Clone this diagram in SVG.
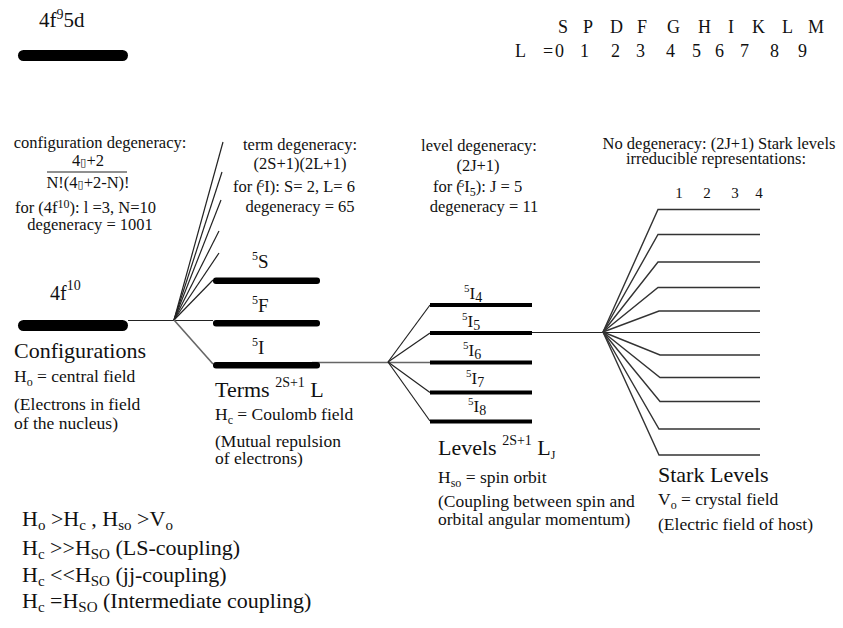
<svg xmlns="http://www.w3.org/2000/svg" width="843" height="628" viewBox="0 0 843 628">
  <style>
    .t { font-family: "Liberation Serif", "Times New Roman", serif; fill: #111; }
    .s16 { font-size: 16.5px; }
    .s17 { font-size: 17.5px; }
    .s19 { font-size: 19px; }
    .s21 { font-size: 22px; }
    .mid { text-anchor: middle; }
    .bar { fill: #000; }
    .ln { stroke: #222; stroke-width: 1.2; fill: none; }
    .lg { stroke: #666; stroke-width: 1.6; fill: none; }
    .st { stroke: #333; stroke-width: 1.4; fill: none; }
  </style>

  <!-- upper configuration 4f9 5d -->
  <g id="config-4f95d">
    <text class="t" font-size="21" x="39" y="27">4f<tspan font-size="14" dy="-8">9</tspan><tspan dy="8">5d</tspan></text>
    <rect class="bar" x="18" y="50" width="110" height="11" rx="5.5"/>
  </g>

  <!-- spectroscopic letter table -->
  <g id="letter-table" class="t" font-size="18">
    <text y="33"><tspan x="558">S</tspan><tspan x="583">P</tspan><tspan x="610">D</tspan><tspan x="637">F</tspan><tspan x="667">G</tspan><tspan x="698">H</tspan><tspan x="728">I</tspan><tspan x="752">K</tspan><tspan x="782">L</tspan><tspan x="808">M</tspan></text>
    <text y="57"><tspan x="515">L</tspan><tspan x="543">=</tspan><tspan x="555">0</tspan><tspan x="580">1</tspan><tspan x="611">2</tspan><tspan x="636">3</tspan><tspan x="666">4</tspan><tspan x="692">5</tspan><tspan x="715">6</tspan><tspan x="740">7</tspan><tspan x="770">8</tspan><tspan x="798">9</tspan></text>
  </g>

  <!-- degeneracy annotations -->
  <g id="config-degeneracy" class="t s16">
    <text class="mid" x="100" y="148">configuration degeneracy:</text>
    <text class="mid" x="88" y="166">4<tspan font-family="DejaVu Sans" font-size="11">▯</tspan>+2</text>
    <line x1="47" y1="172" x2="127" y2="172" stroke="#222" stroke-width="1.2"/>
    <text class="mid" x="88" y="188">N!(4<tspan font-family="DejaVu Sans" font-size="11">▯</tspan>+2-N)!</text>
    <text x="15" y="213">for (4f<tspan font-size="12" dy="-5">10</tspan><tspan dy="5">): l  =3, N=10</tspan></text>
    <text class="mid" x="90" y="230">degeneracy = 1001</text>
  </g>

  <g id="term-degeneracy" class="t s16">
    <text class="mid" x="300" y="150">term degeneracy:</text>
    <text class="mid" x="300" y="169">(2S+1)(2L+1)</text>
    <text x="233" y="192">for (<tspan font-size="11" dy="-5" dx="-3">5</tspan><tspan dy="5">I): S= 2, L= 6</tspan></text>
    <text class="mid" x="300" y="212">degeneracy = 65</text>
  </g>

  <g id="level-degeneracy" class="t s16">
    <text class="mid" x="479" y="151">level degeneracy:</text>
    <text class="mid" x="478" y="171">(2J+1)</text>
    <text x="433" y="192">for (<tspan font-size="11" dy="-5" dx="-3">5</tspan><tspan dy="5">I</tspan><tspan font-size="12" dy="4">5</tspan><tspan dy="-4">): J = 5</tspan></text>
    <text class="mid" x="484" y="212">degeneracy = 11</text>
  </g>

  <g id="stark-degeneracy" class="t s16">
    <text class="mid" x="719" y="149">No degeneracy: (2J+1) Stark levels</text>
    <text class="mid" x="716" y="164">irreducible representations:</text>
    <text class="mid" font-size="15" y="198"><tspan x="679">1</tspan><tspan x="707">2</tspan><tspan x="735">3</tspan><tspan x="759">4</tspan></text>
  </g>

  <!-- connectors: splitting fans and links between stages -->
  <g id="connectors">
    <line class="ln" x1="128" y1="320.5" x2="213" y2="320.5"/>
    <line class="ln" x1="174" y1="320" x2="223" y2="142"/>
    <line class="ln" x1="174" y1="320" x2="222" y2="172"/>
    <line class="ln" x1="174" y1="320" x2="221" y2="200"/>
    <line class="ln" x1="174" y1="320" x2="219" y2="231"/>
    <line class="ln" x1="174" y1="320" x2="219" y2="253"/>
    <line class="ln" x1="174" y1="320" x2="213" y2="280"/>
    <line class="lg" x1="174" y1="320" x2="213" y2="364"/>

    <line class="lg" x1="312" y1="362.5" x2="430" y2="362.5"/>
    <line class="ln" x1="388" y1="362" x2="430" y2="305"/>
    <line class="ln" x1="388" y1="362" x2="430" y2="333"/>
    <line class="ln" x1="388" y1="362" x2="430" y2="392.5"/>
    <line class="ln" x1="388" y1="362" x2="430" y2="421"/>

    <line class="ln" x1="531" y1="332.5" x2="760" y2="332.5"/>
    <polyline class="st" points="603,332 658,209.5 760,209.5"/>
    <polyline class="st" points="603,332 658,234.5 760,234.5"/>
    <polyline class="st" points="603,332 658,262 760,262"/>
    <polyline class="st" points="603,332 658,287.5 760,287.5"/>
    <polyline class="st" points="603,332 659,311 760,311"/>
    <polyline class="st" points="603,332 660,355 760,355"/>
    <polyline class="st" points="603,332 660,377.5 760,377.5"/>
    <polyline class="st" points="603,332 660,401.5 760,401.5"/>
    <polyline class="st" points="603,332 659,429 760,429"/>
    <polyline class="st" points="603,332 659,455 760,455"/>
  </g>

  <!-- 4f10 configuration -->
  <g id="configurations">
    <text class="t" font-size="20" x="50" y="300">4f<tspan font-size="14" dy="-10">10</tspan></text>
    <rect class="bar" x="18" y="320" width="110" height="11" rx="5.5"/>
    <text class="t s21" x="14" y="358">Configurations</text>
    <text class="t s17" x="14" y="382">H<tspan font-size="12" dy="4">o</tspan><tspan dy="-4"> = central field</tspan></text>
    <text class="t s17" x="14" y="410">(Electrons in field</text>
    <text class="t s17" x="14" y="429">of the nucleus)</text>
  </g>

  <!-- LS terms -->
  <g id="terms">
    <rect class="bar" x="213" y="277.5" width="107" height="6.5" rx="3"/>
    <rect class="bar" x="213" y="320" width="107" height="6.5" rx="3"/>
    <rect class="bar" x="213" y="362" width="107" height="6.5" rx="3"/>
    <text class="t s19" x="252" y="268"><tspan font-size="12" dy="-8">5</tspan><tspan dy="8">S</tspan></text>
    <text class="t s19" x="252" y="312"><tspan font-size="12" dy="-8">5</tspan><tspan dy="8">F</tspan></text>
    <text class="t s19" x="252" y="354"><tspan font-size="12" dy="-8">5</tspan><tspan dy="8">I</tspan></text>
    <text class="t s21" x="215" y="397">Terms <tspan font-size="14" dy="-10">2S+1</tspan><tspan dy="10"> L</tspan></text>
    <text class="t s17" x="215" y="420">H<tspan font-size="12" dy="4">c</tspan><tspan dy="-4"> = Coulomb field</tspan></text>
    <text class="t s17" x="215" y="447">(Mutual repulsion</text>
    <text class="t s17" x="215" y="464">of electrons)</text>
  </g>

  <!-- J levels -->
  <g id="levels">
    <rect class="bar" x="430" y="303" width="102" height="4"/>
    <rect class="bar" x="430" y="331" width="102" height="4"/>
    <rect class="bar" x="430" y="360.5" width="102" height="4"/>
    <rect class="bar" x="430" y="390.5" width="102" height="4"/>
    <rect class="bar" x="430" y="419.5" width="102" height="4"/>
    <text class="t" font-size="17" x="464" y="299"><tspan font-size="11" dy="-7">5</tspan><tspan dy="7">I</tspan><tspan font-size="14" dy="3">4</tspan></text>
    <text class="t" font-size="17" x="462" y="327"><tspan font-size="11" dy="-7">5</tspan><tspan dy="7">I</tspan><tspan font-size="14" dy="3">5</tspan></text>
    <text class="t" font-size="17" x="463" y="356"><tspan font-size="11" dy="-7">5</tspan><tspan dy="7">I</tspan><tspan font-size="14" dy="3">6</tspan></text>
    <text class="t" font-size="17" x="466" y="384"><tspan font-size="11" dy="-7">5</tspan><tspan dy="7">I</tspan><tspan font-size="14" dy="3">7</tspan></text>
    <text class="t" font-size="17" x="468" y="412"><tspan font-size="11" dy="-7">5</tspan><tspan dy="7">I</tspan><tspan font-size="14" dy="3">8</tspan></text>
    <text class="t s21" x="438" y="455">Levels <tspan font-size="14" dy="-10">2S+1</tspan><tspan dy="10"> L</tspan><tspan font-size="12" dy="4">J</tspan></text>
    <text class="t s17" x="438" y="483">H<tspan font-size="12" dy="4">so</tspan><tspan dy="-4"> = spin orbit</tspan></text>
    <text class="t s17" x="438" y="507">(Coupling between spin and</text>
    <text class="t s17" x="438" y="525">orbital angular momentum)</text>
  </g>

  <!-- crystal-field Stark levels -->
  <g id="stark-levels">
    <text class="t s21" x="658" y="482">Stark Levels</text>
    <text class="t s17" x="658" y="505">V<tspan font-size="12" dy="4">o</tspan><tspan dy="-4"> = crystal field</tspan></text>
    <text class="t s17" x="658" y="530">(Electric field of host)</text>
  </g>

  <!-- coupling regimes -->
  <g id="coupling-notes" class="t" font-size="22">
    <text x="22" y="526">H<tspan font-size="15" dy="4">o</tspan><tspan dy="-4"> &gt;H</tspan><tspan font-size="15" dy="4">c</tspan><tspan dy="-4"> , H</tspan><tspan font-size="15" dy="4">so</tspan><tspan dy="-4"> &gt;V</tspan><tspan font-size="15" dy="4">o</tspan></text>
    <text x="22" y="555">H<tspan font-size="15" dy="4">c</tspan><tspan dy="-4"> &gt;&gt;H</tspan><tspan font-size="15" dy="4">SO</tspan><tspan dy="-4"> (LS-coupling)</tspan></text>
    <text x="22" y="582">H<tspan font-size="15" dy="4">c</tspan><tspan dy="-4"> &lt;&lt;H</tspan><tspan font-size="15" dy="4">SO</tspan><tspan dy="-4"> (jj-coupling)</tspan></text>
    <text x="22" y="608">H<tspan font-size="15" dy="4">c</tspan><tspan dy="-4"> =H</tspan><tspan font-size="15" dy="4">SO</tspan><tspan dy="-4"> (Intermediate coupling)</tspan></text>
  </g>
</svg>
